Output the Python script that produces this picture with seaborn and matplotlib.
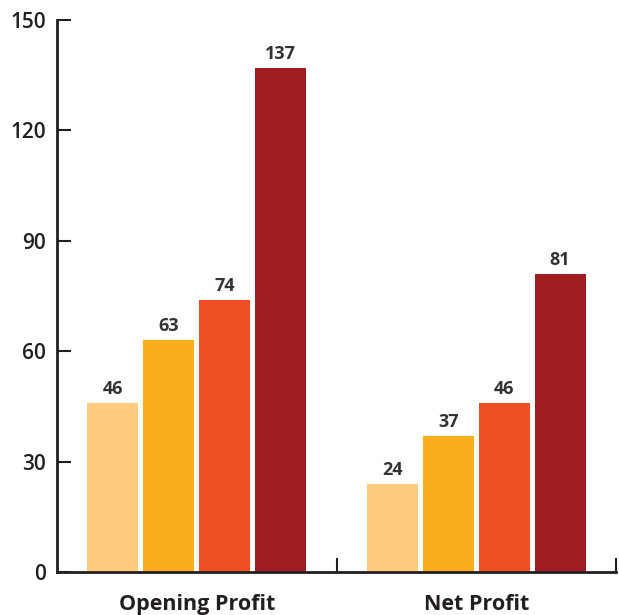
import matplotlib
matplotlib.use("Agg")
import matplotlib.pyplot as plt
import seaborn as sns
import pandas as pd

categories = ["Opening Profit", "Net Profit"]
series = ["Period 1", "Period 2", "Period 3", "Period 4"]
opening_profit = [46, 63, 74, 137]
net_profit = [24, 37, 46, 81]
colors = ["#FDCB7B", "#F9AE1B", "#F04E23", "#A01C21"]
y_ticks = [0, 30, 60, 90, 120, 150]

rows = []
for s, v in zip(series, opening_profit):
    rows.append({"category": categories[0], "series": s, "value": v})
for s, v in zip(series, net_profit):
    rows.append({"category": categories[1], "series": s, "value": v})
df = pd.DataFrame(rows)

sns.set_theme(style="ticks")
plt.rcParams["font.family"] = ["Open Sans", "DejaVu Sans"]
ink = "#231F20"

fig = plt.figure(figsize=(6.19, 6.15), dpi=100)
ax = fig.add_axes([57 / 619, 1 - 572 / 615, (616 - 57) / 619, (572 - 20) / 615])

sns.barplot(data=df, x="category", y="value", hue="series", order=categories,
            hue_order=series, palette=colors, width=0.8, gap=0.09,
            saturation=1, legend=False, ax=ax, edgecolor="none", linewidth=0)

for cont in ax.containers:
    ax.bar_label(cont, padding=3.5, fontsize=13, fontweight="bold", color="#333333")

ax.set_xlim(-0.5, 1.5)
ax.set_ylim(0, 150)
ax.set_yticks(y_ticks)
ax.set_yticklabels([str(t) for t in y_ticks], fontsize=15, fontweight=600, color=ink)
ax.set_xticks([0, 1])
ax.set_xticklabels(categories, fontsize=15.5, fontweight="bold", color=ink)
ax.set_xticks([0.5, 1.5], minor=True)
ax.tick_params(axis="x", which="major", length=0, pad=16)
ax.tick_params(axis="x", which="minor", direction="in", length=10, width=1.5, color=ink)
ax.tick_params(axis="y", direction="in", length=10, width=1.5, color=ink, pad=8)
ax.set_xlabel("")
ax.set_ylabel("")

for side in ["top", "right"]:
    ax.spines[side].set_visible(False)
for side in ["left", "bottom"]:
    ax.spines[side].set_linewidth(2)
    ax.spines[side].set_color(ink)

fig.savefig("out.png", dpi=100)
